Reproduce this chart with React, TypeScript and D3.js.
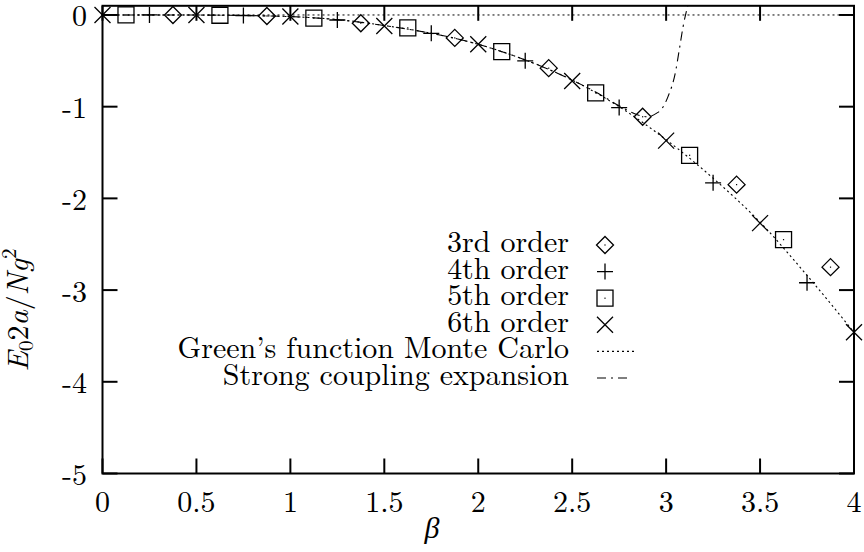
import React from 'react';
import * as d3 from 'd3';

const xTicks = [0, 0.5, 1, 1.5, 2, 2.5, 3, 3.5, 4];
const xTickLabels = ['0', '0.5', '1', '1.5', '2', '2.5', '3', '3.5', '4'];
const yTicks = [0, -1, -2, -3, -4, -5];
const yTickLabels = ['0', '-1', '-2', '-3', '-4', '-5'];

const order3Beta = [0.375, 0.875, 1.375, 1.875, 2.375, 2.875, 3.375, 3.875];
const order3E = [-0.0005, -0.011, -0.09, -0.25, -0.58, -1.11, -1.85, -2.75];
const order4Beta = [0.25, 0.75, 1.25, 1.75, 2.25, 2.75, 3.25, 3.75];
const order4E = [0, -0.006, -0.055, -0.2, -0.5, -1.01, -1.83, -2.92];
const order5Beta = [0.125, 0.625, 1.125, 1.625, 2.125, 2.625, 3.125, 3.625];
const order5E = [0, -0.003, -0.035, -0.14, -0.4, -0.85, -1.53, -2.45];
const order6Beta = [0, 0.5, 1, 1.5, 2, 2.5, 3, 3.5, 4];
const order6E = [0, -0.001, -0.016, -0.12, -0.32, -0.72, -1.37, -2.27, -3.46];

const gfmcBeta = [0, 0.25, 0.5, 0.75, 1, 1.25, 1.5, 1.75, 2, 2.25, 2.5, 2.75, 3, 3.25, 3.5, 3.75, 4];
const gfmcE = [0, 0, -0.001, -0.006, -0.018, -0.05, -0.115, -0.2, -0.32, -0.49, -0.71, -1.0, -1.36, -1.78, -2.26, -2.84, -3.46];

const strongBeta = [0, 0.5, 1, 1.5, 2, 2.25, 2.5, 2.625, 2.75, 2.85, 2.9, 2.95, 2.97, 3.01, 3.05, 3.07, 3.09, 3.115];
const strongE = [0, -0.001, -0.018, -0.115, -0.32, -0.49, -0.71, -0.84, -0.99, -1.09, -1.11, -1.07, -1.04, -0.89, -0.62, -0.38, -0.13, 0.1];

const legendLabels = ['3rd order', '4th order', '5th order', '6th order', "Green\u2019s function Monte Carlo", 'Strong coupling expansion'];

const W = 864;
const H = 552;
const FONT = "'Latin Modern Roman'";
const GREEK_FONT = "'Liberation Serif'";

const x = d3.scaleLinear().domain([0, 4]).range([102.5, 854]);
const y = d3.scaleLinear().domain([-5, 0.1]).range([473.5, 5.8]);

type Kind = 'diamond' | 'plus' | 'square' | 'cross';

function markerPath(kind: Kind, cx: number, cy: number): string {
  const s = 8;
  switch (kind) {
    case 'diamond': {
      const d = 8.5;
      return `M${cx},${cy - d}L${cx + d},${cy}L${cx},${cy + d}L${cx - d},${cy}Z`;
    }
    case 'plus':
      return `M${cx - s},${cy}H${cx + s}M${cx},${cy - s}V${cy + s}`;
    case 'square':
      return `M${cx - s},${cy - s}H${cx + s}V${cy + s}H${cx - s}Z`;
    case 'cross':
      return `M${cx - s},${cy - s}L${cx + s},${cy + s}M${cx - s},${cy + s}L${cx + s},${cy - s}`;
  }
}

function Marker({ kind, cx, cy }: { kind: Kind; cx: number; cy: number }) {
  return (
    <g>
      <path d={markerPath(kind, cx, cy)} fill="none" stroke="#000" strokeWidth={1.3} />
      {(kind === 'diamond' || kind === 'square') && (
        <rect x={cx - 0.6} y={cy - 0.6} width={1.2} height={1.2} fill="#000" />
      )}
    </g>
  );
}

const series: { kind: Kind; beta: number[]; e: number[] }[] = [
  { kind: 'diamond', beta: order3Beta, e: order3E },
  { kind: 'plus', beta: order4Beta, e: order4E },
  { kind: 'square', beta: order5Beta, e: order5E },
  { kind: 'cross', beta: order6Beta, e: order6E },
];

const textStyle = (size: number, italic = false, fam = FONT): React.CSSProperties => ({
  fontFamily: fam,
  fontSize: size,
  fontStyle: italic ? 'italic' : 'normal',
});

export default function App() {
  const line = d3
    .line<[number, number]>()
    .x((d) => x(d[0]))
    .y((d) => y(d[1]))
    .curve(d3.curveMonotoneX);

  const gfmcPts = gfmcBeta.map((b, i) => [b, gfmcE[i]] as [number, number]);
  const strongPts = strongBeta.map((b, i) => [b, strongE[i]] as [number, number]);

  const [x0, x1] = x.range();
  const yTop = y(0.1);
  const yBot = y(-5);
  const tickLen = 15;

  const legendX = 569;
  const legendMarkX = 605;
  const legendY0 = 245;
  const legendDY = 26.6;

  return (
    <svg
      width={W}
      height={H}
      viewBox={`0 0 ${W} ${H}`}
      style={{ position: 'absolute', left: 0, top: 0, background: '#fff' }}
    >
      <defs>
        <clipPath id="plotClip">
          <rect x={x0} y={yTop} width={x1 - x0} height={yBot - yTop} />
        </clipPath>
      </defs>
      <rect x={0} y={0} width={W} height={H} fill="#fff" />

      {/* zero axis */}
      <line x1={x0} x2={x1} y1={y(0)} y2={y(0)} stroke="#000" strokeWidth={1} strokeDasharray="2,3" />

      {/* ticks */}
      {xTicks.map((t) => (
        <g key={'xt' + t}>
          <line x1={x(t)} x2={x(t)} y1={yBot} y2={yBot - tickLen} stroke="#000" strokeWidth={2} />
          <line x1={x(t)} x2={x(t)} y1={yTop} y2={yTop + tickLen} stroke="#000" strokeWidth={2} />
        </g>
      ))}
      {yTicks.map((t) => (
        <g key={'yt' + t}>
          <line x1={x0} x2={x0 + tickLen} y1={y(t)} y2={y(t)} stroke="#000" strokeWidth={2} />
          <line x1={x1} x2={x1 - tickLen} y1={y(t)} y2={y(t)} stroke="#000" strokeWidth={2} />
        </g>
      ))}

      {/* border */}
      <rect x={x0} y={yTop} width={x1 - x0} height={yBot - yTop} fill="none" stroke="#000" strokeWidth={2} />

      {/* tick labels */}
      {xTicks.map((t, i) => (
        <text key={'xl' + t} x={x(t)} y={512} textAnchor="middle" style={textStyle(30)}>
          {xTickLabels[i]}
        </text>
      ))}
      {yTicks.map((t, i) => (
        <text key={'yl' + t} x={87} y={y(t) + 11.5} textAnchor="end" style={textStyle(30)}>
          {yTickLabels[i]}
        </text>
      ))}

      {/* axis labels */}
      <text x={432} y={538} textAnchor="middle" style={textStyle(30, true, GREEK_FONT)}>
        β
      </text>
      <text transform="translate(28,310) rotate(-90)" textAnchor="middle" style={textStyle(30)}>
        <tspan style={{ fontStyle: 'italic' }}>E</tspan>
        <tspan style={{ fontSize: 21 }} dy={5}>0</tspan>
        <tspan dy={-5}>2</tspan>
        <tspan style={{ fontStyle: 'italic' }}>a</tspan>
        <tspan>/</tspan>
        <tspan style={{ fontStyle: 'italic' }}>N</tspan>
        <tspan style={{ fontStyle: 'italic' }}>g</tspan>
        <tspan style={{ fontSize: 21 }} dy={-12}>2</tspan>
      </text>

      {/* lines */}
      <g clipPath="url(#plotClip)">
        <path d={line(gfmcPts) || ''} fill="none" stroke="#000" strokeWidth={1.1} strokeDasharray="2,3" />
        <path d={line(strongPts) || ''} fill="none" stroke="#000" strokeWidth={1.1} strokeDasharray="9,5,2,5" />
      </g>

      {/* markers */}
      {series.map((s) =>
        s.beta.map((b, i) => <Marker key={s.kind + i} kind={s.kind} cx={x(b)} cy={y(s.e[i])} />)
      )}

      {/* legend */}
      {legendLabels.map((lab, i) => (
        <text
          key={'lg' + i}
          x={legendX}
          y={legendY0 + legendDY * i + 7}
          textAnchor="end"
          style={textStyle(30)}
        >
          {lab}
        </text>
      ))}
      {series.map((s, i) => (
        <Marker key={'lm' + i} kind={s.kind} cx={legendMarkX} cy={legendY0 + legendDY * i} />
      ))}
      <line x1={597} x2={636} y1={legendY0 + legendDY * 4} y2={legendY0 + legendDY * 4} stroke="#000" strokeWidth={1.1} strokeDasharray="2,3" />
      <line x1={597} x2={629} y1={legendY0 + legendDY * 5} y2={legendY0 + legendDY * 5} stroke="#000" strokeWidth={1.1} strokeDasharray="9,5,2,5" />
    </svg>
  );
}
